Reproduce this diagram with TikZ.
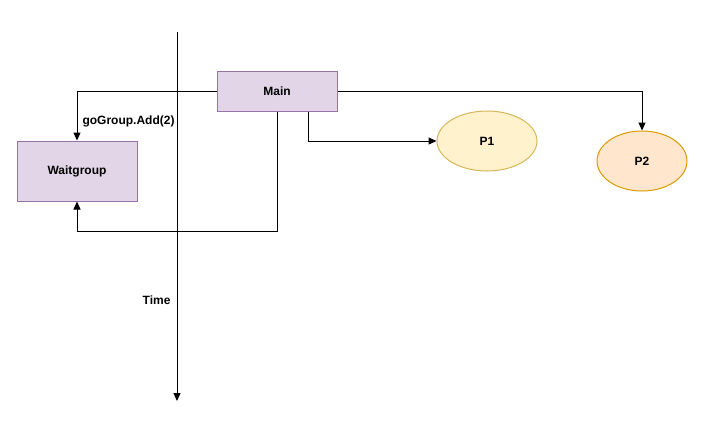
\documentclass[tikz,border=0pt]{standalone}
\usepackage{fontspec}
\setmainfont{Liberation Sans}
\usepackage{tikz}
\usetikzlibrary{arrows.meta}
\usetikzlibrary{shapes.geometric}
\usepackage{xcolor}
\definecolor{boxfill}{HTML}{E1D5E7}
\definecolor{boxline}{HTML}{9673A6}
\definecolor{ponefill}{HTML}{FFF2CC}
\definecolor{poneline}{HTML}{D6B656}
\definecolor{ptwofill}{HTML}{FFE6CC}
\definecolor{ptwoline}{HTML}{D79B00}

\tikzset{
  lbl/.style={font=\fontsize{12}{14}\selectfont\bfseries},
  proc/.style={lbl, draw=boxline, fill=boxfill, line width=1pt},
  goroutine/.style={lbl, ellipse, line width=1pt, inner sep=0pt},
  flow/.style={-{Triangle[length=8pt,width=7pt]}, line width=1pt},
}

\begin{document}
\begin{tikzpicture}[x=1pt, y=-1pt]
    \useasboundingbox (0,0) rectangle (719,424);
    %\draw[step=10, gray,very thin] (0,0) grid (719,424);
    \begin{scope}
    \node[proc, minimum width=120pt, minimum height=40pt] (main) at (277,91) {Main};
    \node[proc, minimum width=120pt, minimum height=60pt] (wg) at (77,171) {Waitgroup};
    \node[goroutine, draw=poneline, fill=ponefill, minimum width=100pt, minimum height=60pt] (p1) at (487,141) {P1};
    \node[goroutine, draw=ptwoline, fill=ptwofill, minimum width=90pt, minimum height=60pt] (p2) at (642,161) {P2};
    \end{scope}
    \coordinate (ttop) at (177,32);
    \coordinate (tbot) at (177,401);
    \coordinate (p1src) at (308,112);
    \coordinate (done) at (277,231);
    \begin{scope}[flow]
    \draw (ttop) -- (tbot);
    \draw (main.west) -| (wg.north);
    \draw (main.south) -- (done) -| (wg.south);
    \draw (p1src) |- (p1.west);
    \draw (main.east) -| (p2.north);
    \end{scope}
    \node[lbl, anchor=west] (add) at (79,121) {goGroup.Add(2)};
    \node[lbl, anchor=east] (time) at (174,300) {Time};
\end{tikzpicture}
\end{document}
